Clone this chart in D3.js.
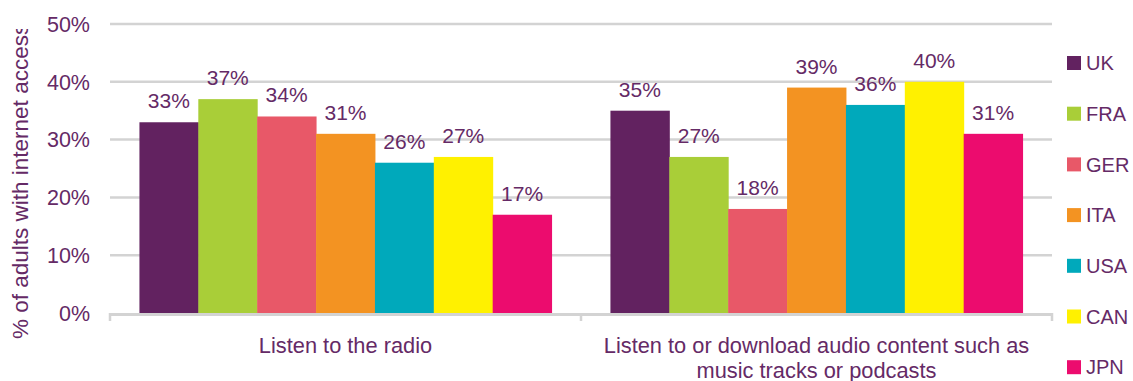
<!DOCTYPE html>
<html>
<head>
<meta charset="utf-8">
<script src="https://cdn.jsdelivr.net/npm/d3@7"></script>
<style>
    body { margin: 0; background: #fff; }
    svg { display: block; font-family: "Liberation Sans", Arial, sans-serif; }
</style>
</head>
<body>
<div id="chart"></div>
<script>
// Grouped bar chart: online audio activities by country

const categories = ['Listen to the radio', 'Listen to or download audio content such as music tracks or podcasts'];
const categoryLines = [
    ['Listen to the radio'],
    ['Listen to or download audio content such as', 'music tracks or podcasts']
];
const countries = ['UK', 'FRA', 'GER', 'ITA', 'USA', 'CAN', 'JPN'];
const radioValues = [33, 37, 34, 31, 26, 27, 17];
const audioValues = [35, 27, 18, 39, 36, 40, 31];
const yTicks = [0, 10, 20, 30, 40, 50];
const colors = ['#622260', '#a9ce38', '#e85868', '#f39322', '#00a9bb', '#fff100', '#ec0c6e'];

const seriesValues = [radioValues, audioValues];
const textColor = '#652a66';
const gridColor = '#d3d3d3';

const width = 1133, height = 381;
const plot = {left: 110, right: 1052, top: 24, bottom: 313};

const svg = d3.select('#chart')
    .append('svg')
    .attr('width', width)
    .attr('height', height);

// clip for the axis title (it overflows the chart area in the original)
svg.append('clipPath')
    .attr('id', 'title-clip')
    .append('rect')
    .attr('x', 0)
    .attr('y', 29)
    .attr('width', 60)
    .attr('height', 352);

// Scales
const x0 = d3.scaleBand()
    .domain(categories)
    .range([plot.left, plot.right])
    .padding(0);

const x1 = d3.scaleBand()
    .domain(countries)
    .range([0, x0.bandwidth()])
    .paddingInner(0)
    .paddingOuter(0.5);

const y = d3.scaleLinear()
    .domain([0, 50])
    .range([plot.bottom, plot.top]);

const color = d3.scaleOrdinal().domain(countries).range(colors);

// Gridlines
svg.append('g')
    .selectAll('line')
    .data(yTicks.filter(t => t > 0))
    .enter()
    .append('line')
    .attr('x1', plot.left)
    .attr('x2', plot.right)
    .attr('y1', d => y(d))
    .attr('y2', d => y(d))
    .attr('stroke', gridColor)
    .attr('stroke-width', 2.5);

// Y tick labels
svg.append('g')
    .selectAll('text')
    .data(yTicks)
    .enter()
    .append('text')
    .attr('x', 90)
    .attr('y', d => y(d))
    .attr('dy', '0.36em')
    .attr('text-anchor', 'end')
    .attr('fill', textColor)
    .style('font-size', '21.5px')
    .text(d => d + '%');

// Bars
const groups = svg.selectAll('.group')
    .data(categories)
    .enter()
    .append('g')
    .attr('class', 'group')
    .attr('transform', d => `translate(${x0(d)},0)`);

groups.each(function(cat, i) {
    const g = d3.select(this);
    const rows = countries.map((c, j) => ({country: c, value: seriesValues[i][j]}));

    g.selectAll('rect')
        .data(rows)
        .enter()
        .append('rect')
        .attr('x', d => x1(d.country))
        .attr('y', d => y(d.value))
        .attr('width', x1.bandwidth() + 0.5)
        .attr('height', d => y(0) - y(d.value))
        .attr('fill', d => color(d.country));

    g.selectAll('.value-label')
        .data(rows)
        .enter()
        .append('text')
        .attr('class', 'value-label')
        .attr('x', d => x1(d.country) + x1.bandwidth() / 2)
        .attr('y', d => y(d.value) - 14)
        .attr('text-anchor', 'middle')
        .attr('fill', textColor)
        .style('font-size', '21px')
        .text(d => d.value + '%');
});

// Baseline and ticks
svg.append('line')
    .attr('x1', plot.left)
    .attr('x2', plot.right)
    .attr('y1', plot.bottom + 1.5)
    .attr('y2', plot.bottom + 1.5)
    .attr('stroke', gridColor)
    .attr('stroke-width', 3);

const tickXs = [plot.left, ...categories.map(c => x0(c) + x0.bandwidth())];
svg.append('g')
    .selectAll('line')
    .data(tickXs)
    .enter()
    .append('line')
    .attr('x1', d => d)
    .attr('x2', d => d)
    .attr('y1', plot.bottom)
    .attr('y2', plot.bottom + 8)
    .attr('stroke', gridColor)
    .attr('stroke-width', 2.5);

// Category labels
categories.forEach((cat, i) => {
    const t = svg.append('text')
        .attr('x', x0(cat) + x0.bandwidth() / 2)
        .attr('y', 353)
        .attr('text-anchor', 'middle')
        .attr('fill', textColor)
        .style('font-size', '21.8px');
    categoryLines[i].forEach((line, k) => {
        t.append('tspan')
            .attr('x', x0(cat) + x0.bandwidth() / 2)
            .attr('y', 353 + k * 25)
            .text(line);
    });
});

// Y axis title
svg.append('g')
    .attr('clip-path', 'url(#title-clip)')
    .append('text')
    .attr('transform', 'translate(28,339) rotate(-90)')
    .attr('text-anchor', 'start')
    .attr('fill', textColor)
    .style('font-size', '22.5px')
    .text('% of adults with internet access');

// Legend
const legend = svg.append('g')
    .selectAll('g')
    .data(countries)
    .enter()
    .append('g')
    .attr('transform', (d, i) => `translate(1067,${63 + i * 50.7})`);

legend.append('rect')
    .attr('x', 0)
    .attr('y', -7)
    .attr('width', 14)
    .attr('height', 14)
    .attr('fill', d => color(d));

legend.append('text')
    .attr('x', 19)
    .attr('y', 0)
    .attr('dy', '0.36em')
    .attr('fill', textColor)
    .style('font-size', '20px')
    .text(d => d);
</script>
</body>
</html>
